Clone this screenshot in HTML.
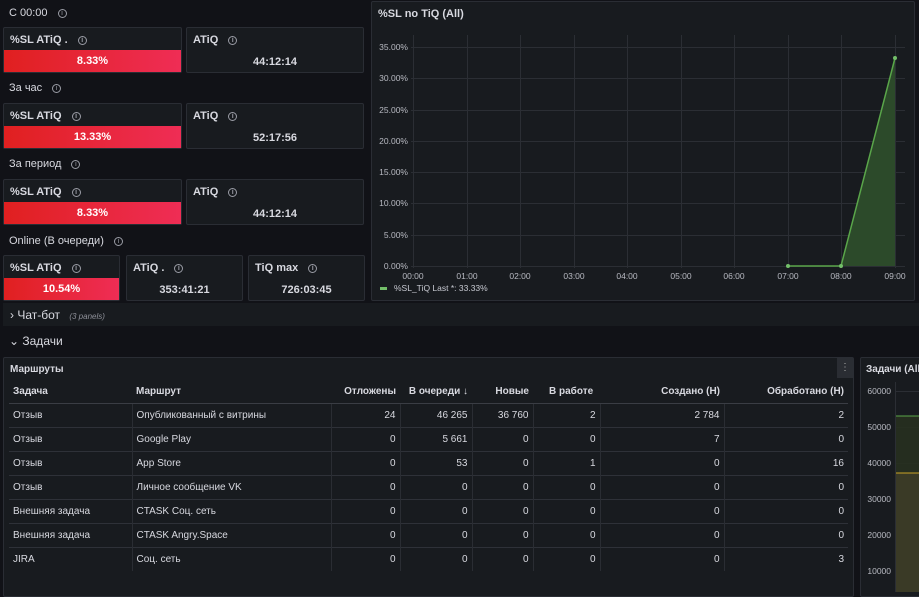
<!DOCTYPE html>
<html><head><meta charset="utf-8"><style>
*{box-sizing:border-box;margin:0;padding:0}
body{width:919px;height:592px;overflow:hidden;background:#111217;font-family:"Liberation Sans","Noto Sans CJK SC",sans-serif;color:#ccccdc;position:relative;font-size:12px}
.a{position:absolute}
.p{position:absolute;background:#181b1f;border:1px solid #2a2d34;border-radius:2px}
.t{position:absolute;left:6px;top:6px;font-size:11px;font-weight:bold;color:#d8d9e0}
.i{display:inline-block;width:9px;height:9px;border:1px solid #9a9ca5;border-radius:50%;margin-left:10px;font-size:7px;line-height:7px;text-align:center;color:#9a9ca5;vertical-align:middle}
.red{position:absolute;left:0;right:0;bottom:0;height:22px;background:linear-gradient(90deg,#e02020,#ef2d55);color:#fff;font-weight:bold;font-size:11px;text-align:center;line-height:22px}
.v{position:absolute;left:0;right:0;bottom:4px;text-align:center;font-weight:bold;font-size:11px;color:#d8d9e0}
.h{position:absolute;left:9px;font-size:11px;color:#d8d9e0}
table{border-collapse:collapse;position:absolute;left:9px;top:381px;font-size:10px;color:#d8d9e0}
td{height:24px;border-top:1px solid #2e3138;padding:0 4px}
tr.hd td{height:22px;border-top:none;border-bottom:1px solid #3a3d44}
td+td{border-left:1px solid #2a2d33}
tr.hd td{border-left:none}
.r{text-align:right}
</style></head><body>
<div class="h" style="top:7px">С 00:00<span class="i">i</span></div>
<div class="p" style="left:3px;top:27px;width:179px;height:46px"><div class="t">%SL ATiQ .<span class="i">i</span></div><div class="red">8.33%</div></div>
<div class="p" style="left:186px;top:27px;width:178px;height:46px"><div class="t">ATiQ<span class="i">i</span></div><div class="v">44:12:14</div></div>
<div class="h" style="top:82px">За час<span class="i">i</span></div>
<div class="p" style="left:3px;top:103px;width:179px;height:46px"><div class="t">%SL ATiQ<span class="i">i</span></div><div class="red">13.33%</div></div>
<div class="p" style="left:186px;top:103px;width:178px;height:46px"><div class="t">ATiQ<span class="i">i</span></div><div class="v">52:17:56</div></div>
<div class="h" style="top:158px">За период<span class="i">i</span></div>
<div class="p" style="left:3px;top:179px;width:179px;height:46px"><div class="t">%SL ATiQ<span class="i">i</span></div><div class="red">8.33%</div></div>
<div class="p" style="left:186px;top:179px;width:178px;height:46px"><div class="t">ATiQ<span class="i">i</span></div><div class="v">44:12:14</div></div>
<div class="h" style="top:235px">Online (В очереди)<span class="i">i</span></div>
<div class="p" style="left:3px;top:255px;width:117px;height:46px"><div class="t">%SL ATiQ<span class="i">i</span></div><div class="red">10.54%</div></div>
<div class="p" style="left:126px;top:255px;width:117px;height:46px"><div class="t">ATiQ .<span class="i">i</span></div><div class="v">353:41:21</div></div>
<div class="p" style="left:248px;top:255px;width:117px;height:46px"><div class="t">TiQ max<span class="i">i</span></div><div class="v">726:03:45</div></div>

<div class="p" style="left:371px;top:1px;width:544px;height:300px"><div class="t">%SL no TiQ (All)</div></div>
<svg class="a" style="left:0;top:0" width="919" height="300" font-family="Liberation Sans,sans-serif" font-size="8.5" fill="#b8bac2">
<g stroke="#2b2e34" stroke-width="1">
<line x1="411" x2="905" y1="47.5" y2="47.5"/><line x1="411" x2="905" y1="78.5" y2="78.5"/><line x1="411" x2="905" y1="110.5" y2="110.5"/><line x1="411" x2="905" y1="141.5" y2="141.5"/><line x1="411" x2="905" y1="172.5" y2="172.5"/><line x1="411" x2="905" y1="203.5" y2="203.5"/><line x1="411" x2="905" y1="235.5" y2="235.5"/><line x1="411" x2="905" y1="266.5" y2="266.5"/>
<line x1="413.5" x2="413.5" y1="35" y2="268"/><line x1="467.5" x2="467.5" y1="35" y2="268"/><line x1="520.5" x2="520.5" y1="35" y2="268"/><line x1="574.5" x2="574.5" y1="35" y2="268"/><line x1="627.5" x2="627.5" y1="35" y2="268"/><line x1="681.5" x2="681.5" y1="35" y2="268"/><line x1="734.5" x2="734.5" y1="35" y2="268"/><line x1="788.5" x2="788.5" y1="35" y2="268"/><line x1="841.5" x2="841.5" y1="35" y2="268"/><line x1="895.5" x2="895.5" y1="35" y2="268"/>
</g>
<g text-anchor="end"><text x="408" y="50">35.00%</text><text x="408" y="81">30.00%</text><text x="408" y="113">25.00%</text><text x="408" y="144">20.00%</text><text x="408" y="175">15.00%</text><text x="408" y="206">10.00%</text><text x="408" y="238">5.00%</text><text x="408" y="269">0.00%</text></g>
<g text-anchor="middle"><text x="413" y="279">00:00</text><text x="467" y="279">01:00</text><text x="520" y="279">02:00</text><text x="574" y="279">03:00</text><text x="627" y="279">04:00</text><text x="681" y="279">05:00</text><text x="734" y="279">06:00</text><text x="788" y="279">07:00</text><text x="841" y="279">08:00</text><text x="895" y="279">09:00</text></g>
<polygon points="841,266 895,58 895,266" fill="#2c4a2a"/>
<polyline points="788,266 841,266 895,58" fill="none" stroke="#5aa64a" stroke-width="1.5"/>
<circle cx="788" cy="266" r="2" fill="#73bf69"/><circle cx="841" cy="266" r="2" fill="#73bf69"/><circle cx="895" cy="58" r="2" fill="#73bf69"/>
<rect x="380" y="287" width="7" height="3" fill="#73bf69"/>
<text x="394" y="291" fill="#c8cad2">%SL_TiQ  Last *: 33.33%</text>
</svg>

<div class="a" style="left:3px;top:303px;width:916px;height:23px;background:#181b1f"></div>
<div class="a" style="left:10px;top:308px;font-size:12px;color:#d8d9e0">› Чат-бот <i style="font-size:8px;color:#8e9099;margin-left:6px">(3 panels)</i></div>
<div class="a" style="left:9px;top:334px;font-size:12px;color:#d8d9e0">⌄ Задачи</div>

<div class="p" style="left:3px;top:357px;width:851px;height:240px"><div class="t" style="font-size:10px">Маршруты</div>
<div class="a" style="right:0;top:0;width:16px;height:20px;background:#2a2d33;color:#aaa;text-align:center;font-size:10px;line-height:20px">⋮</div></div>
<table>
<tr class="hd" style="font-weight:bold;font-size:10px"><td style="width:123px">Задача</td><td style="width:199px">Маршрут</td><td class="r" style="width:69px">Отложены</td><td class="r" style="width:72px">В очереди ↓</td><td class="r" style="width:61px">Новые</td><td style="width:67px;padding-left:16px">В работе</td><td class="r" style="width:124px">Создано (Н)</td><td class="r" style="width:124px">Обработано (Н)</td></tr>
<tr><td>Отзыв</td><td>Опубликованный с витрины</td><td class="r">24</td><td class="r">46 265</td><td class="r">36 760</td><td class="r">2</td><td class="r">2 784</td><td class="r">2</td></tr>
<tr><td>Отзыв</td><td>Google Play</td><td class="r">0</td><td class="r">5 661</td><td class="r">0</td><td class="r">0</td><td class="r">7</td><td class="r">0</td></tr>
<tr><td>Отзыв</td><td>App Store</td><td class="r">0</td><td class="r">53</td><td class="r">0</td><td class="r">1</td><td class="r">0</td><td class="r">16</td></tr>
<tr><td>Отзыв</td><td>Личное сообщение VK</td><td class="r">0</td><td class="r">0</td><td class="r">0</td><td class="r">0</td><td class="r">0</td><td class="r">0</td></tr>
<tr><td>Внешняя задача</td><td>CTASK Соц. сеть</td><td class="r">0</td><td class="r">0</td><td class="r">0</td><td class="r">0</td><td class="r">0</td><td class="r">0</td></tr>
<tr><td>Внешняя задача</td><td>CTASK Angry.Space</td><td class="r">0</td><td class="r">0</td><td class="r">0</td><td class="r">0</td><td class="r">0</td><td class="r">0</td></tr>
<tr><td>JIRA</td><td>Соц. сеть</td><td class="r">0</td><td class="r">0</td><td class="r">0</td><td class="r">0</td><td class="r">0</td><td class="r">3</td></tr>
</table>

<div class="p" style="left:860px;top:357px;width:70px;height:240px"><div class="t" style="font-size:10px;left:5px">Задачи (All)</div></div>
<svg class="a" style="left:860px;top:357px" width="59" height="235" font-family="Liberation Sans,sans-serif" font-size="8.5" fill="#b8bac2">
<g stroke="#2b2e34"><line x1="35" x2="59" y1="34.5" y2="34.5"/><line x1="35" x2="59" y1="70.5" y2="70.5"/><line x1="35" x2="59" y1="106.5" y2="106.5"/><line x1="35" x2="59" y1="142.5" y2="142.5"/><line x1="35" x2="59" y1="178.5" y2="178.5"/><line x1="35" x2="59" y1="214.5" y2="214.5"/></g>
<rect x="35" y="59" width="24" height="176" fill="#27301f" opacity="0.9"/>
<rect x="35" y="116" width="24" height="119" fill="#3a3a26"/>
<line x1="35" x2="59" y1="59" y2="59" stroke="#5aa64a"/>
<line x1="35" x2="59" y1="116" y2="116" stroke="#c9a227"/>
<line x1="35.5" x2="35.5" y1="25" y2="235" stroke="#2b2e34"/>
<g text-anchor="end"><text x="31" y="37">60000</text><text x="31" y="73">50000</text><text x="31" y="109">40000</text><text x="31" y="145">30000</text><text x="31" y="181">20000</text><text x="31" y="217">10000</text></g>
</svg>
</body></html>
